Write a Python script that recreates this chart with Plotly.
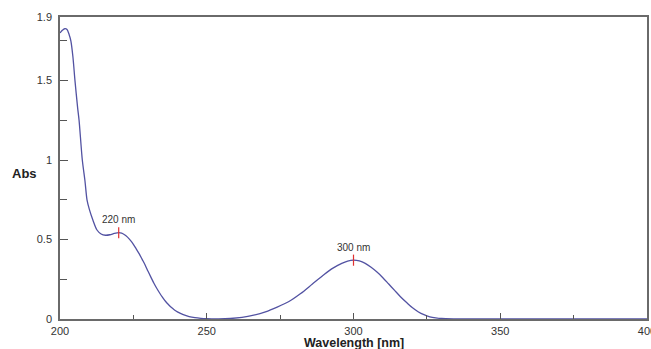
import plotly.graph_objects as go

# Spectrum
wavelength = [200, 200.8, 201.6, 202.4, 203.1, 203.7, 204.4, 205.1, 206, 206.5, 207.6, 208.5, 209.2, 210, 211.2,
              212.6, 214, 215.5, 217, 218.5, 220, 221, 222, 223, 224, 225, 226, 227, 228, 229,
              230, 231, 232, 233, 234, 235, 236, 237, 238, 239, 240, 242, 244, 246, 248, 250,
              254, 258, 262, 266, 270, 274, 278, 282, 286, 290, 293, 296, 298, 300, 302, 304,
              306, 308, 310, 312, 314, 316, 318, 320, 322, 324, 326, 328, 330, 335, 340, 400]
absorbance = [1.80, 1.816, 1.826, 1.822, 1.79, 1.75, 1.65, 1.50, 1.33, 1.25, 1.00, 0.87, 0.75, 0.69, 0.623,
              0.56, 0.535, 0.527, 0.530, 0.538, 0.543, 0.540, 0.530, 0.515, 0.495, 0.470, 0.440, 0.410, 0.375, 0.340,
              0.300, 0.262, 0.225, 0.192, 0.162, 0.135, 0.110, 0.090, 0.072, 0.057, 0.045, 0.027, 0.015, 0.008, 0.004, 0.002,
              0.001, 0.003, 0.010, 0.024, 0.045, 0.075, 0.110, 0.160, 0.220, 0.280, 0.320, 0.350, 0.364, 0.370, 0.365, 0.350,
              0.325, 0.295, 0.260, 0.220, 0.180, 0.140, 0.105, 0.072, 0.046, 0.027, 0.014, 0.007, 0.003, 0.001, 0.0, 0.0]

# Peak markers
peak_wl = [220, 300]
peak_abs = [0.543, 0.37]
peak_labels = ["220 nm", "300 nm"]

# Axis ticks
x_ticks = [200, 250, 300, 350, 400]
x_ticktext = ["200", "250", "300", "350", "400"]
x_minor = [225, 275, 325, 375]
y_ticks = [0, 0.5, 1, 1.5, 1.9]
y_ticktext = ["0", "0.5", "1", "1.5", "1.9"]
y_minor = [0.25, 0.75, 1.25, 1.75]

fig = go.Figure()
fig.add_trace(go.Scatter(x=wavelength, y=absorbance, mode="lines",
                         line=dict(color="#5252a2", width=1.3, shape="spline", smoothing=0.8),
                         hoverinfo="skip", showlegend=False))

half = 0.035
for wl, a, lab in zip(peak_wl, peak_abs, peak_labels):
    fig.add_trace(go.Scatter(x=[wl, wl], y=[a - half, a + half], mode="lines",
                             line=dict(color="#e03030", width=1.2), showlegend=False, hoverinfo="skip"))
    fig.add_annotation(x=wl, y=a + half, text=lab, showarrow=False, yanchor="bottom", yshift=0,
                       font=dict(family="Liberation Sans, Arial", size=10, color="#333333"))

axis_common = dict(showline=True, linecolor="#6a6a6a", linewidth=1.5, mirror=True,
                   ticks="inside", tickcolor="#555555", tickwidth=1, automargin=False,
                   showgrid=False, zeroline=False, ticklabeloverflow="allow",
                   tickfont=dict(family="Liberation Sans, Arial", size=11, color="#333333"))

fig.update_xaxes(range=[200, 400], tickvals=x_ticks, ticktext=x_ticktext, ticklen=6,
                 ticklabelstandoff=1,
                 minor=dict(tickvals=x_minor, ticks="inside", ticklen=4, tickcolor="#555555"),
                 **axis_common)
fig.update_yaxes(range=[0, 1.9], tickvals=y_ticks, ticktext=y_ticktext, ticklen=8,
                 ticklabelstandoff=4,
                 minor=dict(tickvals=y_minor, ticks="inside", ticklen=7, tickcolor="#555555"),
                 **axis_common)

fig.add_annotation(text="<b>Abs</b>", xref="paper", yref="paper", x=-0.0613, y=0.483,
                   xanchor="center", yanchor="middle", showarrow=False,
                   font=dict(family="Liberation Sans, Arial", size=13, color="#222222"))
fig.add_annotation(text="<b>Wavelength [nm]</b>", xref="paper", yref="paper", x=0.5, y=0,
                   yshift=-23.5, xanchor="center", yanchor="middle", showarrow=False,
                   font=dict(family="Liberation Sans, Arial", size=12.5, color="#222222"))

fig.update_layout(width=651, height=349, margin=dict(l=60, r=4, t=17, b=30),
                  plot_bgcolor="white", paper_bgcolor="white")

fig.write_html("out.html", config={"displayModeBar": False},
               post_script="document.body.style.margin='0';")
